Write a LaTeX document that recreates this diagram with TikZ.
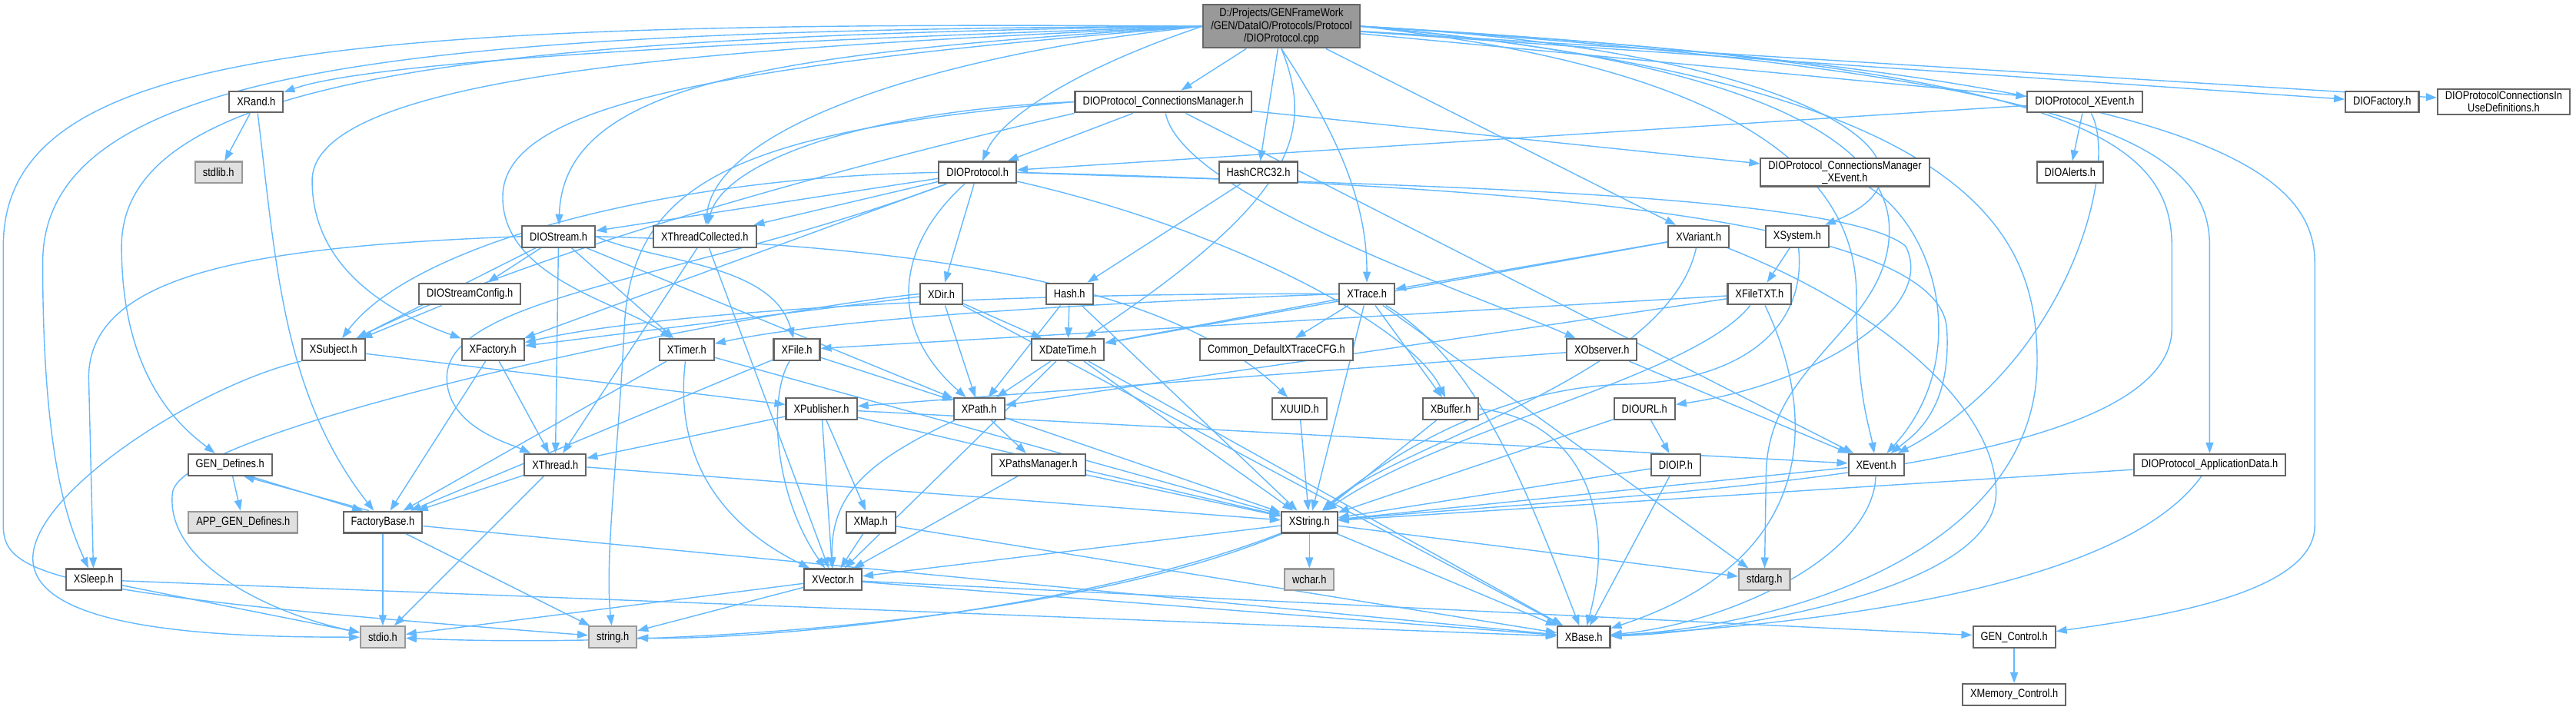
\documentclass[tikz,border=0pt]{standalone}
\usepackage{fontspec}
\setmainfont{Liberation Sans}[FakeStretch=0.85]
\usepackage{tikz}
\usetikzlibrary{arrows.meta,backgrounds}
\definecolor{edgec}{HTML}{63B8FF}
\definecolor{linec}{HTML}{666666}
\definecolor{sysfill}{HTML}{E0E0E0}
\definecolor{sysline}{HTML}{999999}
\definecolor{rootfill}{HTML}{999999}
\tikzset{
  hdr/.style={draw=linec,line width=0.6pt,fill=white,inner xsep=0.1cm,inner ysep=0pt,minimum height=0.278cm,font=\fontsize{4.3}{4.6}\selectfont,align=center},
  sys/.style={hdr,draw=sysline,fill=sysfill},
  rootbox/.style={hdr,fill=rootfill,inner ysep=0.05cm},
  ed/.style={edgec,line width=0.4pt,-{Triangle[length=0.14cm,width=0.1cm]}}
}

\begin{document}
\begin{tikzpicture}[x=0.02137cm,y=-0.02137cm]
\useasboundingbox (0,0) rectangle (1568,432);
% files
\node[rootbox] (root) at (780,16) {D:/Projects/GENFrameWork\\/GEN/DataIO/Protocols/Protocol\\/DIOProtocol.cpp};
\node[hdr] (xrand) at (156,62) {XRand.h};
\node[hdr] (connmgr) at (708,62) {DIOProtocol\_ConnectionsManager.h};
\node[hdr] (protxev) at (1269,62) {DIOProtocol\_XEvent.h};
\node[hdr] (diofact) at (1450,62) {DIOFactory.h};
\node[hdr,inner ysep=0.03cm] (inuse) at (1524,62) {DIOProtocolConnectionsIn\\UseDefinitions.h};
\node[sys] (stdlib) at (133,105) {stdlib.h};
\node[hdr] (dioprot) at (595,105) {DIOProtocol.h};
\node[hdr] (hashcrc) at (766,105) {HashCRC32.h};
\node[hdr,inner ysep=0.03cm] (connxev) at (1123,105) {DIOProtocol\_ConnectionsManager\\\_XEvent.h};
\node[hdr] (alerts) at (1260,105) {DIOAlerts.h};
\node[hdr] (diostream) at (340,144) {DIOStream.h};
\node[hdr] (xthcoll) at (429,144) {XThreadCollected.h};
\node[hdr] (xvariant) at (1034,144) {XVariant.h};
\node[hdr] (xsystem) at (1094,144) {XSystem.h};
\node[hdr] (streamcfg) at (286,179) {DIOStreamConfig.h};
\node[hdr] (xdir) at (573,179) {XDir.h};
\node[hdr] (hash) at (651,179) {Hash.h};
\node[hdr] (xtrace) at (832,179) {XTrace.h};
\node[hdr] (xfiletxt) at (1071,179) {XFileTXT.h};
\node[hdr] (xsubject) at (203,213) {XSubject.h};
\node[hdr] (xfactory) at (300,213) {XFactory.h};
\node[hdr] (xtimer) at (418,213) {XTimer.h};
\node[hdr] (xfile) at (485,213) {XFile.h};
\node[hdr] (xdatetime) at (650,213) {XDateTime.h};
\node[hdr] (tracecfg) at (777,213) {Common\_DefaultXTraceCFG.h};
\node[hdr] (xobserver) at (975,213) {XObserver.h};
\node[hdr] (xpublisher) at (500,249) {XPublisher.h};
\node[hdr] (xpath) at (596,249) {XPath.h};
\node[hdr] (xuuid) at (791,249) {XUUID.h};
\node[hdr] (xbuffer) at (883,249) {XBuffer.h};
\node[hdr] (diourl) at (1001,249) {DIOURL.h};
\node[hdr] (gendef) at (140,283) {GEN\_Defines.h};
\node[hdr] (xthread) at (338,283) {XThread.h};
\node[hdr] (xpathsmgr) at (632,283) {XPathsManager.h};
\node[hdr] (dioip) at (1020,283) {DIOIP.h};
\node[hdr] (xevent) at (1142,283) {XEvent.h};
\node[hdr] (appdata) at (1345,283) {DIOProtocol\_ApplicationData.h};
\node[sys] (appgendef) at (148,318) {APP\_GEN\_Defines.h};
\node[hdr] (factbase) at (233,318) {FactoryBase.h};
\node[hdr] (xmap) at (530,318) {XMap.h};
\node[hdr] (xstring) at (797,318) {XString.h};
\node[hdr] (xsleep) at (57,353) {XSleep.h};
\node[hdr] (xvector) at (507,353) {XVector.h};
\node[sys] (wchar) at (797,353) {wchar.h};
\node[sys] (stdarg) at (1074,353) {stdarg.h};
\node[sys] (stdio) at (233,388) {stdio.h};
\node[sys] (string) at (373,388) {string.h};
\node[hdr] (xbase) at (964,388) {XBase.h};
\node[hdr] (genctrl) at (1226,388) {GEN\_Control.h};
\node[hdr] (xmemctrl) at (1226,423) {XMemory\_Control.h};
\begin{pgfonlayer}{background}
% straight includes
\foreach \src/\dst in {root/connmgr,root/hashcrc,root/xvariant,root/protxev,root/diofact,root/inuse,
  connmgr/dioprot,connmgr/connxev,connmgr/xevent,
  dioprot/diostream,dioprot/xthcoll,dioprot/xdir,dioprot/xfactory,
  protxev/dioprot,protxev/alerts,hashcrc/hash,xrand/stdlib,
  diostream/streamcfg,diostream/xthread,diostream/xtimer,diostream/xsubject,diostream/xpath,
  streamcfg/xsubject,xthcoll/xthread,xthcoll/xvector,
  xvariant/xtrace,xvariant/xdatetime,xsystem/xfiletxt,
  xfiletxt/xfile,xfiletxt/xpath,
  xdir/xdatetime,xdir/xpath,xdir/xbase,xdir/xfactory,
  hash/xdatetime,hash/xpath,hash/xstring,
  xtrace/tracecfg,xtrace/xstring,xtrace/xbuffer,xtrace/xdatetime,xtrace/stdarg,
  xsubject/xpublisher,xfactory/xthread,xfactory/factbase,
  xtimer/xstring,xtimer/factbase,
  xfile/xpath,xfile/factbase,
  xdatetime/xpath,xdatetime/xvector,xdatetime/xstring,xdatetime/xbase,
  xobserver/xpublisher,xobserver/xevent,
  xpublisher/xvector,xpublisher/xmap,xpublisher/xthread,xpublisher/xevent,xpublisher/xstring,
  xpath/xpathsmgr,xpath/xstring,
  xuuid/xstring,xbuffer/xstring,
  diourl/dioip,diourl/xstring,dioip/xstring,dioip/xbase,
  gendef/appgendef,factbase/stdio,factbase/string,factbase/xbase,
  xthread/factbase,xthread/stdio,xthread/xstring,
  xpathsmgr/xvector,xpathsmgr/xstring,xevent/xstring,appdata/xstring,
  xmap/xvector,xmap/xbase,
  xstring/wchar,xstring/stdarg,xstring/xbase,xstring/xvector,
  xsleep/stdio,xsleep/xbase,
  xvector/stdio,xvector/string,xvector/xbase,xvector/genctrl,
  genctrl/xmemctrl}
  \draw[ed] (\src) -- (\dst);
% long includes from the source file
\draw[ed] (root.west) .. controls (480,24) and (230,36) .. (xrand);
\draw[ed] (root.west) .. controls (470,32) and (343,50) .. (diostream);
\draw[ed] (root.west) .. controls (560,34) and (435,80) .. (xthcoll);
\draw[ed] (root.west) .. controls (480,28) and (190,40) .. (190,110) .. controls (190,170) and (250,195) .. (xfactory);
\draw[ed] (root.west) .. controls (430,40) and (306,65) .. (306,120) .. controls (306,170) and (380,185) .. (xtimer);
\draw[ed] (root.west) .. controls (300,22) and (74,45) .. (74,150) .. controls (74,230) and (110,260) .. (gendef);
\draw[ed] (root.west) .. controls (250,18) and (26,40) .. (26,160) .. controls (26,280) and (42,320) .. (xsleep);
\draw[ed] (root.west) .. controls (200,12) and (2,30) .. (2,150) -- (2,320) .. controls (2,350) and (30,362) .. (string);
\draw[ed] (root.west) .. controls (660,40) and (610,70) .. (dioprot);
\draw[ed] (root.south) .. controls (800,80) and (790,120) .. (xdatetime);
\draw[ed] (root.south) .. controls (820,90) and (832,130) .. (xtrace);
\draw[ed] (root.east) .. controls (1100,30) and (1200,100) .. (xsystem);
\draw[ed] (root.east) .. controls (1000,35) and (1130,80) .. (1130,180) .. controls (1130,240) and (1138,260) .. (xevent);
\draw[ed] (root.east) .. controls (1050,35) and (1150,80) .. (1150,140) .. controls (1150,200) and (1075,220) .. (1075,290) -- (stdarg);
\draw[ed] (root.east) .. controls (1250,40) and (1322,80) .. (1322,150) -- (1322,200) .. controls (1322,290) and (1000,300) .. (xstring);
\draw[ed] (root.east) .. controls (1280,45) and (1345,90) .. (1345,150) -- (appdata);
\draw[ed] (root.east) .. controls (1330,45) and (1409,100) .. (1409,160) -- (1409,320) .. controls (1409,360) and (1320,375) .. (genctrl);
\draw[ed] (root.east) .. controls (1200,50) and (1240,140) .. (1240,220) .. controls (1240,330) and (1100,380) .. (xbase);
% other bent includes
\draw[ed] (connmgr.west) .. controls (520,68) and (440,100) .. (xthcoll);
\draw[ed] (connmgr.south west) .. controls (540,95) and (330,150) .. (xsubject);
\draw[ed] (connmgr) .. controls (720,120) and (900,180) .. (xobserver);
\draw[ed] (connmgr.west) .. controls (450,80) and (384,110) .. (380,200) .. controls (376,280) and (368,340) .. (string);
\draw[ed] (dioprot.west) .. controls (400,108) and (250,150) .. (xsubject);
\draw[ed] (dioprot) .. controls (420,170) and (272,180) .. (272,230) .. controls (272,260) and (310,270) .. (xthread);
\draw[ed] (dioprot) .. controls (545,150) and (540,200) .. (xpath);
\draw[ed] (dioprot.east) .. controls (800,112) and (1120,115) .. (1160,150) .. controls (1180,190) and (1100,235) .. (diourl);
\draw[ed] (dioprot.east) .. controls (900,112) and (1180,130) .. (1185,200) .. controls (1188,250) and (1165,265) .. (xevent);
\draw[ed] (dioprot) .. controls (750,140) and (860,200) .. (xbuffer);
\draw[ed] (protxev) .. controls (1290,100) and (1260,220) .. (xevent);
\draw[ed] (connxev) .. controls (1180,140) and (1200,220) .. (xevent);
\draw[ed] (xrand) .. controls (168,160) and (172,240) .. (factbase);
\draw[ed] (diostream.west) .. controls (160,150) and (54,165) .. (54,230) -- (xsleep);
\draw[ed] (diostream.east) .. controls (400,160) and (470,160) .. (xfile);
\draw[ed] (diostream.east) .. controls (500,148) and (700,160) .. (xuuid);
\draw[ed] (xsubject.south west) .. controls (120,235) and (20,300) .. (20,340) .. controls (20,385) and (140,388) .. (stdio);
\draw[ed] (xdir.west) .. controls (450,190) and (110,260) .. (105,300) .. controls (100,345) and (170,375) .. (stdio);
\draw[ed] (gendef.-30) -- (factbase.150);
\draw[ed] (factbase.140) -- (gendef.-40);
\draw[ed] (xvariant) .. controls (1015,230) and (850,270) .. (xstring);
\draw[ed] (xvariant) .. controls (1150,190) and (1215,250) .. (1215,300) .. controls (1215,360) and (1050,385) .. (xbase);
\draw[ed] (xsystem) .. controls (1100,200) and (1060,232) .. (990,234) .. controls (900,236) and (830,290) .. (xstring);
\draw[ed] (xfiletxt) .. controls (1030,230) and (880,260) .. (xstring);
\draw[ed] (xfiletxt) .. controls (1105,250) and (1110,340) .. (xbase);
\draw[ed] (xtrace.west) .. controls (650,185) and (500,195) .. (xtimer);
\draw[ed] (xtrace.west) .. controls (600,178) and (400,190) .. (xfactory);
\draw[ed] (xtrace) .. controls (900,220) and (930,300) .. (xbase);
\draw[ed] (xtimer) .. controls (410,280) and (440,320) .. (xvector);
\draw[ed] (xfile) .. controls (468,240) and (470,300) .. (xvector);
\draw[ed] (xpath) .. controls (530,280) and (505,300) .. (xvector);
\draw[ed] (xbuffer.east) .. controls (960,255) and (985,310) .. (xbase);
\draw[ed] (xevent) .. controls (1140,340) and (1050,380) .. (xbase);
\draw[ed] (appdata) .. controls (1290,360) and (1100,380) .. (xbase);
\draw[ed] (xstring) .. controls (650,380) and (400,395) .. (stdio);
\draw[ed] (xstring) .. controls (650,375) and (450,390) .. (string);
\end{pgfonlayer}
\end{tikzpicture}
\end{document}
